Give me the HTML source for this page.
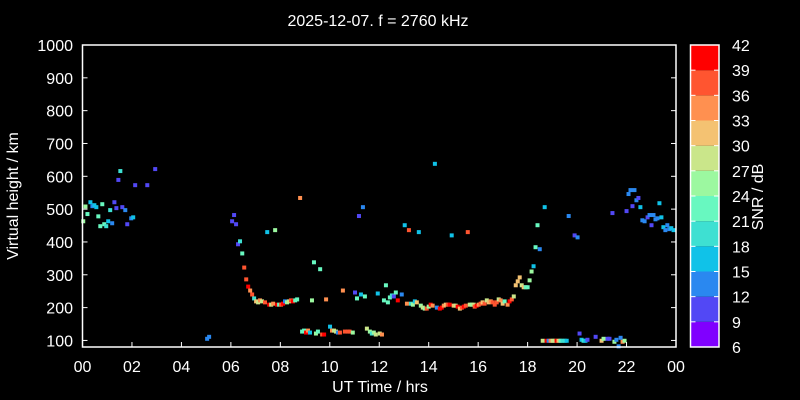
<!DOCTYPE html>
<html><head><meta charset="utf-8"><style>
html,body{margin:0;padding:0;background:#000;}
svg{display:block;font-family:"Liberation Sans",sans-serif;}
</style></head><body>
<svg id="chart" width="800" height="400"></svg>
<script>
const hours=[0.03,0.12,0.2,0.32,0.4,0.48,0.56,0.64,0.72,0.8,0.88,0.96,1.04,1.12,1.2,1.29,1.37,1.45,1.53,1.61,1.73,1.81,1.97,2.05,2.13,2.62,2.94,5.04,5.12,6.05,6.13,6.21,6.29,6.37,6.46,6.54,6.62,6.7,6.78,6.86,6.94,7.02,7.1,7.18,7.26,7.38,7.47,7.55,7.63,7.71,7.79,7.87,7.95,8.03,8.11,8.19,8.27,8.35,8.43,8.51,8.6,8.68,8.8,8.88,8.96,9.04,9.12,9.2,9.28,9.36,9.44,9.52,9.61,9.69,9.77,9.85,10.01,10.09,10.17,10.25,10.33,10.41,10.53,10.61,10.73,10.8,10.93,11.02,11.1,11.18,11.26,11.34,11.42,11.5,11.62,11.7,11.78,11.86,11.94,12.02,12.11,12.19,12.27,12.35,12.43,12.51,12.59,12.67,12.75,12.91,13.03,13.12,13.2,13.28,13.36,13.44,13.52,13.6,13.68,13.76,13.84,13.92,14.0,14.08,14.16,14.25,14.33,14.45,14.53,14.61,14.69,14.77,14.85,14.93,15.01,15.09,15.17,15.26,15.34,15.42,15.5,15.58,15.66,15.74,15.82,15.86,15.94,16.02,16.1,16.18,16.26,16.35,16.43,16.51,16.59,16.67,16.75,16.83,16.91,16.99,17.07,17.19,17.27,17.36,17.44,17.52,17.6,17.68,17.76,17.84,17.92,18.0,18.08,18.16,18.24,18.32,18.4,18.49,18.61,18.69,18.77,18.85,18.93,19.01,19.09,19.17,19.25,19.33,19.41,19.5,19.58,19.66,19.9,20.02,20.1,20.18,20.26,20.34,20.42,20.75,20.99,21.07,21.23,21.31,21.43,21.51,21.59,21.68,21.76,21.84,21.92,22.0,22.08,22.16,22.24,22.32,22.4,22.48,22.56,22.64,22.73,22.85,22.93,23.01,23.09,23.17,23.25,23.33,23.41,23.49,23.57,23.65,23.73,23.81,23.9];
const heights=[463,508,485,521,509,512,506,478,448,515,454,448,463,497,457,521,503,589,616,506,497,454,472,475,573,573,622,105,111,463,482,454,393,402,365,322,286,264,252,240,228,219,216,222,219,216,430,209,209,212,436,209,209,209,212,219,216,219,222,219,222,225,534,127,130,124,130,124,222,338,121,127,317,118,118,225,142,130,130,127,124,124,252,127,127,127,124,246,228,479,240,506,234,136,127,121,124,118,243,121,118,222,268,216,231,237,234,246,222,240,451,212,436,212,209,219,216,430,206,200,197,197,203,209,206,638,200,197,200,206,209,209,209,420,206,206,203,197,200,203,206,430,209,209,209,203,206,209,212,216,212,222,216,219,216,209,216,225,222,212,219,209,219,225,234,268,280,292,268,262,262,262,283,310,326,384,451,378,99,506,99,99,99,99,99,99,99,99,99,99,99,479,420,414,121,102,99,99,102,111,99,105,105,105,488,96,102,82,108,96,99,494,546,558,509,558,527,534,506,466,463,475,482,451,482,469,472,518,475,445,436,451,439,442,436];
const snr=[24,24,21,15,12,15,15,21,21,21,21,18,15,18,12,9,9,9,18,9,12,9,12,15,9,9,9,12,12,9,9,9,9,18,21,36,36,42,33,36,18,30,27,33,27,36,15,42,27,33,24,39,21,36,39,12,24,27,36,39,21,21,33,21,21,39,33,15,24,21,24,21,21,36,39,33,15,33,27,27,12,36,33,36,36,36,24,9,21,9,15,12,21,27,24,18,24,27,15,27,33,21,21,21,21,18,9,21,39,12,15,33,36,18,24,15,30,15,24,27,24,36,24,39,33,15,12,39,42,33,30,36,39,15,30,27,42,30,36,39,36,36,27,24,27,36,39,33,36,30,36,27,30,33,36,36,36,27,33,30,21,33,39,36,27,30,30,30,27,30,21,21,24,24,15,21,21,12,27,15,39,12,33,27,27,42,30,21,18,18,15,12,9,12,9,15,18,15,9,9,30,24,9,9,9,24,12,12,12,33,24,9,12,12,9,12,12,9,15,12,12,9,12,9,12,12,12,15,15,15,12,12,12,15,15];
const xTicks=["00","02","04","06","08","10","12","14","16","18","20","22","00"];
const yTicks=[100,200,300,400,500,600,700,800,900,1000];
const cbTicks=[6,9,12,15,18,21,24,27,30,33,36,39,42];
const cbColors=["#8000ff","#5248f5","#2a88f0","#10c2e8","#3ee0d2","#68f8c0","#9cf8a0","#cae68a","#f4c272","#ff9050","#ff5530","#ff0000"];

const NS="http://www.w3.org/2000/svg";
const svg=document.getElementById('chart');
const L=82.5,R=676,T=45,B=347;
const xS=h=>L+(h/24)*(R-L);
const yS=v=>B-(v-80)/(1000-80)*(B-T);
const cbT=45,cbB=347,cbL=690.5,cbR=719;
const cbY=v=>cbB-(v-6)/36*(cbB-cbT);
function mk(tag,attrs,txt){const e=document.createElementNS(NS,tag);for(const k in attrs)e.setAttribute(k,attrs[k]);if(txt!==undefined)e.textContent=txt;svg.appendChild(e);return e;}
function colorFor(s){let i=Math.floor((s-6)/3);if(i<0)i=0;if(i>11)i=11;return cbColors[i];}

let t=mk('text',{x:378,y:26,fill:'#fff','font-size':16,'text-anchor':'middle'},'2025-12-07. f = 2760 kHz');



hours.forEach((h,i)=>{
  const p=mk('rect',{x:xS(h)-2,y:yS(heights[i])-2,width:4,height:4,fill:colorFor(snr[i])});
  
  
});

const fr=mk('rect',{x:L,y:T,width:R-L,height:B-T,fill:'none',stroke:'#fff','stroke-width':1.5});



xTicks.forEach((lb,i)=>{
  const x=xS(i*2);
  const tk=mk('line',{x1:x,x2:x,y1:B,y2:B-5,stroke:'#fff','stroke-width':1});
  
  
  const tt=mk('text',{x:x,y:372,fill:'#fff','font-size':16,'text-anchor':'middle'},lb);
  
  
});
yTicks.forEach(v=>{
  const y=yS(v);
  const tk=mk('line',{x1:L,x2:L+5,y1:y,y2:y,stroke:'#fff','stroke-width':1});
  
  
  const tk2=mk('line',{x1:R,x2:R-5,y1:y,y2:y,stroke:'#fff','stroke-width':1});
  
  
  const tt=mk('text',{x:73,y:y+6,fill:'#fff','font-size':16,'text-anchor':'end'},v);
  
  
});
let xl=mk('text',{x:380,y:392,fill:'#fff','font-size':16,'text-anchor':'middle'},'UT Time / hrs');


let yl=mk('text',{x:0,y:0,fill:'#fff','font-size':16,'text-anchor':'middle',transform:'translate(18,196) rotate(-90)'},'Virtual height / km');



cbColors.forEach((c,i)=>{
  const y1=cbY(6+i*3),y0=cbY(9+i*3);
  const r=mk('rect',{x:cbL,y:y0,width:cbR-cbL,height:y1-y0,fill:c});
  
  
});
const cbf=mk('rect',{x:cbL,y:cbT,width:cbR-cbL,height:cbB-cbT,fill:'none',stroke:'#fff','stroke-width':1.5});


cbTicks.forEach(v=>{
  const y=cbY(v);
  const tk=mk('line',{x1:cbR,x2:cbR-5,y1:y,y2:y,stroke:'#fff','stroke-width':1});
  
  
  const tk2=mk('line',{x1:cbL,x2:cbL+5,y1:y,y2:y,stroke:'#fff','stroke-width':1});
  
  
  const tt=mk('text',{x:732,y:y+6,fill:'#fff','font-size':16},v);
  
  
});
let cl=mk('text',{x:0,y:0,fill:'#fff','font-size':16,'text-anchor':'middle',transform:'translate(763,197) rotate(-90)'},'SNR / dB');


</script>
</body></html>
